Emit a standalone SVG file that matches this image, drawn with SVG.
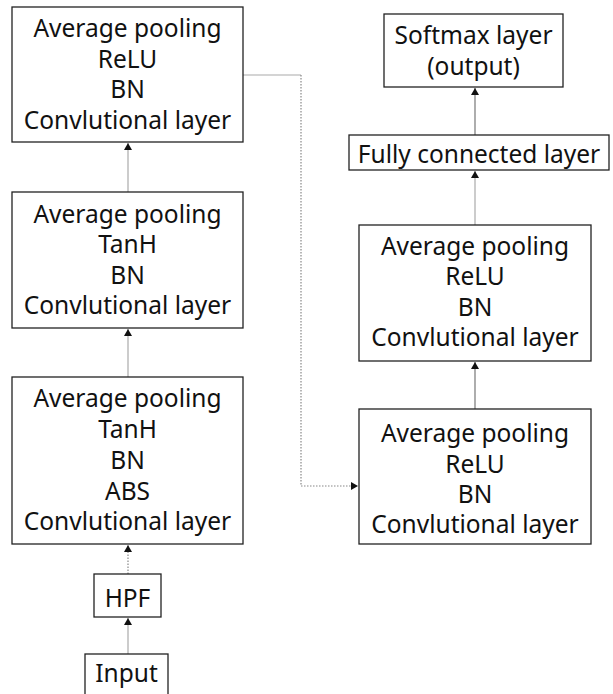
<svg xmlns="http://www.w3.org/2000/svg" width="613" height="694" viewBox="0 0 613 694">
<style>
.box{fill:#fff;stroke:#222;stroke-width:1.3}
.t{font-family:"Noto Sans","DejaVu Sans",sans-serif;font-size:24.5px;fill:#111;text-anchor:middle}
.ln{fill:none;stroke:#aaa;stroke-width:1.2}
.dk{fill:none;stroke:#777;stroke-width:1.2}
.dot{fill:none;stroke:#888;stroke-width:1.2;stroke-dasharray:1.5 1.5}
</style>
<defs>
<marker id="ah" markerWidth="7" markerHeight="8" refX="7" refY="4" orient="auto" markerUnits="userSpaceOnUse">
<path d="M0,0 L7,4 L0,8 Z" fill="#111"/>
</marker>
</defs>
<rect width="613" height="694" fill="#fff"/>
<g id="connectors">
<line class="ln" x1="128" y1="192" x2="128" y2="143" marker-end="url(#ah)"/>
<line class="ln" x1="128" y1="377" x2="128" y2="329" marker-end="url(#ah)"/>
<line class="dot" x1="128" y1="574" x2="128" y2="545" marker-end="url(#ah)"/>
<line class="ln" x1="128" y1="654" x2="128" y2="618" marker-end="url(#ah)"/>
<line class="dk" x1="475" y1="409" x2="475" y2="362" marker-end="url(#ah)"/>
<line class="ln" x1="475" y1="225" x2="475" y2="171" marker-end="url(#ah)"/>
<line class="dk" x1="475" y1="135" x2="475" y2="88" marker-end="url(#ah)"/>
<polyline class="ln" points="243,75 301,75"/>
<polyline class="dot" points="301,75 301,486 358,486" marker-end="url(#ah)"/>
</g>
<g id="node-conv3">
<rect class="box" x="12" y="7" width="231" height="135"/>
<text class="t" x="127.5" y="37">Average pooling</text>
<text class="t" x="127.5" y="68">ReLU</text>
<text class="t" x="127.5" y="98">BN</text>
<text class="t" x="127.5" y="129">Convlutional layer</text>
</g>
<g id="node-conv2">
<rect class="box" x="12" y="192" width="231" height="136"/>
<text class="t" x="127.5" y="223">Average pooling</text>
<text class="t" x="127.5" y="253">TanH</text>
<text class="t" x="127.5" y="284">BN</text>
<text class="t" x="127.5" y="314">Convlutional layer</text>
</g>
<g id="node-conv1">
<rect class="box" x="12" y="377" width="231" height="167"/>
<text class="t" x="127.5" y="407">Average pooling</text>
<text class="t" x="127.5" y="438">TanH</text>
<text class="t" x="127.5" y="469">BN</text>
<text class="t" x="127.5" y="500">ABS</text>
<text class="t" x="127.5" y="530">Convlutional layer</text>
</g>
<g id="node-hpf">
<rect class="box" x="94" y="574" width="67" height="43"/>
<text class="t" x="127.5" y="607">HPF</text>
</g>
<g id="node-input">
<rect class="box" x="85" y="654" width="83" height="45"/>
<text class="t" x="126.5" y="682">Input</text>
</g>
<g id="node-conv4">
<rect class="box" x="359" y="409" width="232" height="135"/>
<text class="t" x="475" y="442">Average pooling</text>
<text class="t" x="475" y="473">ReLU</text>
<text class="t" x="475" y="503">BN</text>
<text class="t" x="475" y="533">Convlutional layer</text>
</g>
<g id="node-conv5">
<rect class="box" x="359" y="225" width="232" height="136"/>
<text class="t" x="475" y="255">Average pooling</text>
<text class="t" x="475" y="285">ReLU</text>
<text class="t" x="475" y="316">BN</text>
<text class="t" x="475" y="346">Convlutional layer</text>
</g>
<g id="node-fc">
<rect class="box" x="349" y="135" width="260" height="35"/>
<text class="t" x="479" y="163">Fully connected layer</text>
</g>
<g id="node-softmax">
<rect class="box" x="384" y="14" width="179" height="73"/>
<text class="t" x="473.5" y="44">Softmax layer</text>
<text class="t" x="473.5" y="75">(output)</text>
</g>
</svg>
